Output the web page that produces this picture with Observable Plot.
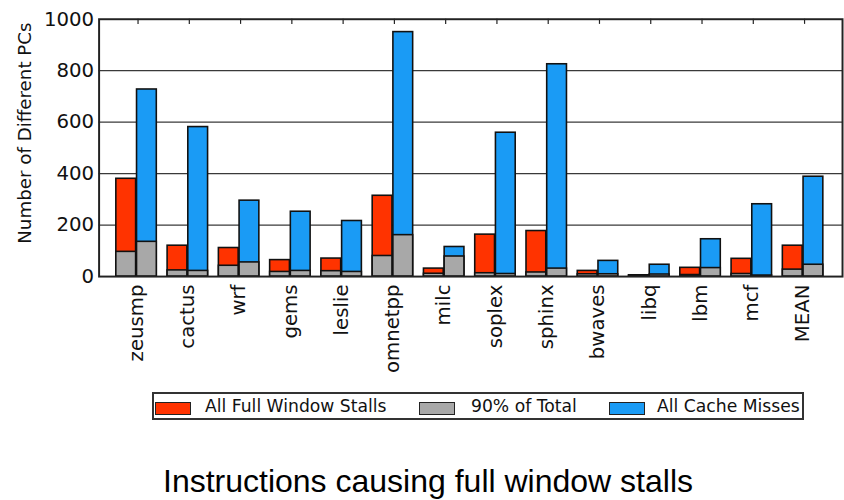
<!DOCTYPE html>
<html>
<head>
<meta charset="utf-8">
<script src="https://cdn.jsdelivr.net/npm/d3@7"></script>
<script src="https://cdn.jsdelivr.net/npm/@observablehq/plot@0.6"></script>
<style>
  html, body { margin: 0; padding: 0; background: #fff; overflow: hidden; }
  #page { position: relative; width: 844px; height: 500px; overflow: hidden; }
  #chart { position: absolute; left: 0; top: 0; }
  #legend {
    position: absolute; left: 152px; top: 392px; width: 652px; height: 28px;
    box-sizing: border-box; border: 2px solid #333; background: #fff;
    font-family: "DejaVu Sans", sans-serif; font-size: 17.2px; color: #111;
  }
  #legend .sw { position: absolute; top: 8px; width: 34px; height: 11px; border: 1.5px solid #222; }
  #legend .lb { position: absolute; top: 2px; line-height: 20px; white-space: nowrap; }
  #title {
    position: absolute; left: 0; top: 465px; width: 856px; text-align: center;
    font-family: "Liberation Sans", Arial, sans-serif; font-size: 32px; line-height: 32px; color: #000;
  }
</style>
</head>
<body>
<div id="page">
  <div id="chart"></div>
  <div id="legend"></div>
  <div id="title"></div>
</div>
<script>
// Benchmarks and the number of distinct instruction PCs in each group
const benchmarks = ["zeusmp", "cactus", "wrf", "gems", "leslie", "omnetpp", "milc",
  "soplex", "sphinx", "bwaves", "libq", "lbm", "mcf", "MEAN"];
const fullWindowStalls = [380, 120, 111, 64, 70, 314, 31, 163, 177, 22, 5, 34, 69, 120];
const fullWindowStalls90 = [96, 24, 42, 18, 21, 80, 11, 13, 16, 9, 3, 6, 10, 27];
const cacheMisses = [727, 581, 295, 252, 216, 950, 115, 559, 825, 61, 46, 145, 281, 388];
const cacheMisses90 = [135, 22, 55, 22, 18, 161, 78, 10, 31, 9, 8, 33, 4, 46];
const yTicks = [0, 200, 400, 600, 800, 1000];

const seriesNames = ["All Full Window Stalls", "90% of Total", "All Cache Misses"];
const seriesColors = ["#ff3300", "#a8a8a8", "#1a9bf5"];
const titleText = "Instructions causing full window stalls";
const yLabel = "Number of Different PCs";

const rows = benchmarks.map((b, i) => ({
  bench: b,
  stalls: fullWindowStalls[i],
  stalls90: fullWindowStalls90[i],
  misses: cacheMisses[i],
  misses90: cacheMisses90[i]
}));

// band layout: each benchmark gets one band, the two bars sit side by side in it
const xRange = [105.33, 846.63];
const step = (xRange[1] - xRange[0]) / benchmarks.length;
const barW = 21;
const leftBar = {insetLeft: step / 2 - barW, insetRight: step / 2};
const rightBar = {insetLeft: step / 2, insetRight: step / 2 - barW};
const edge = {stroke: "#111", strokeWidth: 1.6};
const yMax = yTicks[yTicks.length - 1];

const chart = Plot.plot({
  width: 856,
  height: 390,
  marginTop: 19,
  marginBottom: 110,
  marginLeft: 100,
  marginRight: 2,
  style: {fontFamily: "DejaVu Sans, sans-serif", color: "#111", background: "transparent"},
  x: {type: "band", domain: benchmarks, range: xRange, padding: 0},
  y: {domain: [0, yMax]},
  marks: [
    Plot.gridY(yTicks.slice(1, -1), {stroke: "#3a3a3a", strokeOpacity: 1, strokeWidth: 1.2}),
    Plot.barY(rows, {x: "bench", y: "stalls", fill: seriesColors[0], ...edge, ...leftBar}),
    Plot.barY(rows, {x: "bench", y: "misses", fill: seriesColors[2], ...edge, ...rightBar}),
    Plot.barY(rows, {x: "bench", y: "stalls90", fill: seriesColors[1], ...edge, ...leftBar}),
    Plot.barY(rows, {x: "bench", y: "misses90", fill: seriesColors[1], ...edge, ...rightBar}),
    // inward tick marks along the top edge
    Plot.ruleX(benchmarks, {x: (d) => d, y1: yMax, y2: yMax - 20, dx: 1.5, stroke: "#222", strokeWidth: 1.2}),
    Plot.frame({stroke: "#222", strokeWidth: 2}),
    Plot.axisY({ticks: yTicks, tickFormat: (d) => String(d), tickSize: 0, tickPadding: 5, fontSize: 20, label: null}),
    Plot.axisX({tickSize: 0, tickPadding: 8, tickRotate: -90, fontSize: 20, label: null}),
    Plot.text([yLabel], {frameAnchor: "left", textAnchor: "middle", dx: -75, dy: -15, rotate: -90, fontSize: 18.5, fill: "#111"})
  ]
});
document.getElementById("chart").append(chart);

// legend row
const legend = document.getElementById("legend");
const swatchLeft = [1, 265, 455];
const labelLeft = [51, 317, 503];
seriesNames.forEach((name, i) => {
  const sw = document.createElement("div");
  sw.className = "sw";
  sw.style.left = swatchLeft[i] + "px";
  sw.style.background = seriesColors[i];
  legend.append(sw);
  const lb = document.createElement("div");
  lb.className = "lb";
  lb.style.left = labelLeft[i] + "px";
  lb.textContent = name;
  legend.append(lb);
});

document.getElementById("title").textContent = titleText;
</script>
</body>
</html>
